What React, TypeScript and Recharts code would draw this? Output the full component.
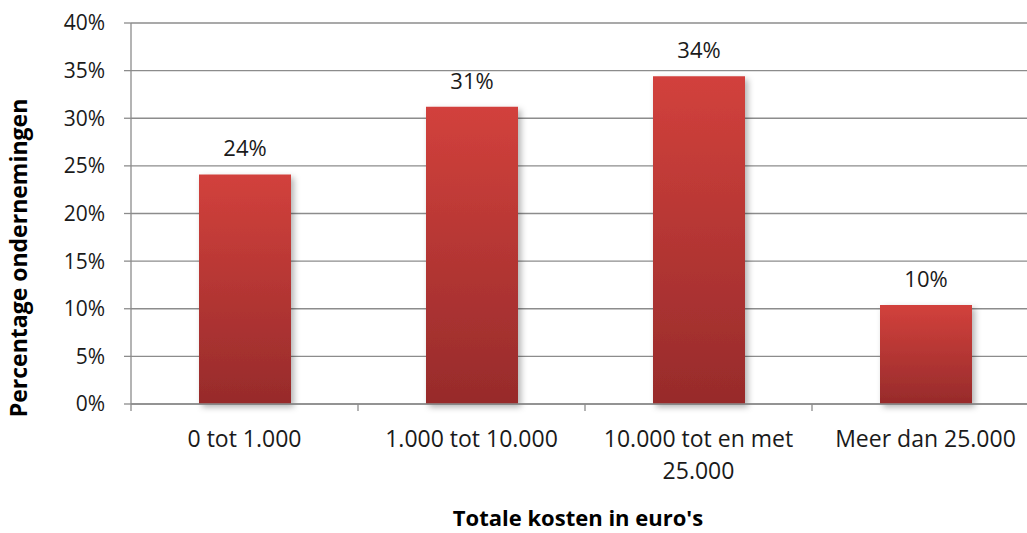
import React from 'react'
import { BarChart, Bar, XAxis, YAxis, CartesianGrid, LabelList } from 'recharts'

const categories = ['0 tot 1.000', '1.000 tot 10.000', '10.000 tot en met 25.000', 'Meer dan 25.000']
const shares = [24.1, 31.2, 34.4, 10.4]
const yTicks = [0, 5, 10, 15, 20, 25, 30, 35, 40]

const data = categories.map((name, i) => ({ name, value: shares[i] }))

const FONT = '"Open Sans", sans-serif'
const GRID = '#8c8c8c'
const TICK_SIZE = 23

// greedy word wrap, measured with a canvas
function wrap(label: string, maxWidth: number): string[] {
  const ctx = document.createElement('canvas').getContext('2d')
  if (!ctx) return [label]
  ctx.font = `${TICK_SIZE}px ${FONT}`
  const lines: string[] = []
  let cur = ''
  for (const w of label.split(' ')) {
    const test = cur ? cur + ' ' + w : w
    if (cur && ctx.measureText(test).width > maxWidth) {
      lines.push(cur)
      cur = w
    } else {
      cur = test
    }
  }
  if (cur) lines.push(cur)
  return lines
}

function CategoryTick(props: any) {
  const { x, y, payload } = props
  const left = x - (payload.offset || 0)
  const lines = wrap(String(payload.value), 205)
  return (
    <g>
      <line x1={left} y1={y} x2={left} y2={y + 7} stroke={GRID} strokeWidth={1.3} />
      <text x={x} y={y + 43} textAnchor="middle" fontSize={TICK_SIZE} fontFamily={FONT} fill="#1a1a1a">
        {lines.map((l, i) => (
          <tspan key={i} x={x} dy={i === 0 ? 0 : 32}>
            {l}
          </tspan>
        ))}
      </text>
    </g>
  )
}

export default function App() {
  return (
    <div style={{ position: 'absolute', left: 0, top: 0, width: 1027, height: 533, overflow: 'hidden', background: '#fff' }}>
      <BarChart
        width={1040}
        height={533}
        data={data}
        margin={{ top: 23, right: 1, left: 0, bottom: 0 }}
        barSize={92}
      >
        <defs>
          <linearGradient id="barFill" x1="0" y1="0" x2="0" y2="1">
            <stop offset="0%" stopColor="#d2413c" />
            <stop offset="100%" stopColor="#972b2b" />
          </linearGradient>
          <filter id="barShadow" x="-20%" y="-10%" width="150%" height="130%">
            <feDropShadow dx="3" dy="3" stdDeviation="3" floodColor="#000" floodOpacity="0.3" />
          </filter>
        </defs>
        <CartesianGrid vertical={false} stroke={GRID} strokeWidth={1.3} />
        <XAxis
          dataKey="name"
          height={129}
          interval={0}
          stroke={GRID}
          strokeWidth={1.3}
          tickLine={false}
          tickSize={0}
          tickMargin={0}
          tick={<CategoryTick />}
          label={{
            content: () => (
              <text x={578} y={526} textAnchor="middle" fontFamily={FONT} fontSize={22} fontWeight="bold" fill="#000">
                Totale kosten in euro's
              </text>
            ),
          }}
        />
        <YAxis
          width={131}
          domain={[0, 40]}
          ticks={yTicks}
          interval={0}
          stroke={GRID}
          strokeWidth={1.3}
          tickSize={7}
          tickMargin={19}
          tickFormatter={(v: number) => `${v}%`}
          tick={{ fontSize: 21, fontFamily: FONT, fill: '#1a1a1a' }}
          label={{
            content: () => (
              <text
                x={0}
                y={0}
                transform="translate(27, 258) rotate(-90)"
                textAnchor="middle"
                fontFamily={FONT}
                fontSize={23}
                fontWeight="bold"
                fill="#000"
              >
                Percentage ondernemingen
              </text>
            ),
          }}
        />
        <Bar dataKey="value" fill="url(#barFill)" filter="url(#barShadow)" isAnimationActive={false}>
          <LabelList
            dataKey="value"
            position="top"
            offset={18}
            formatter={(v: any) => `${Math.round(v)}%`}
            style={{ fontSize: 22, fontFamily: FONT, fill: '#1a1a1a' }}
          />
        </Bar>
      </BarChart>
    </div>
  )
}
